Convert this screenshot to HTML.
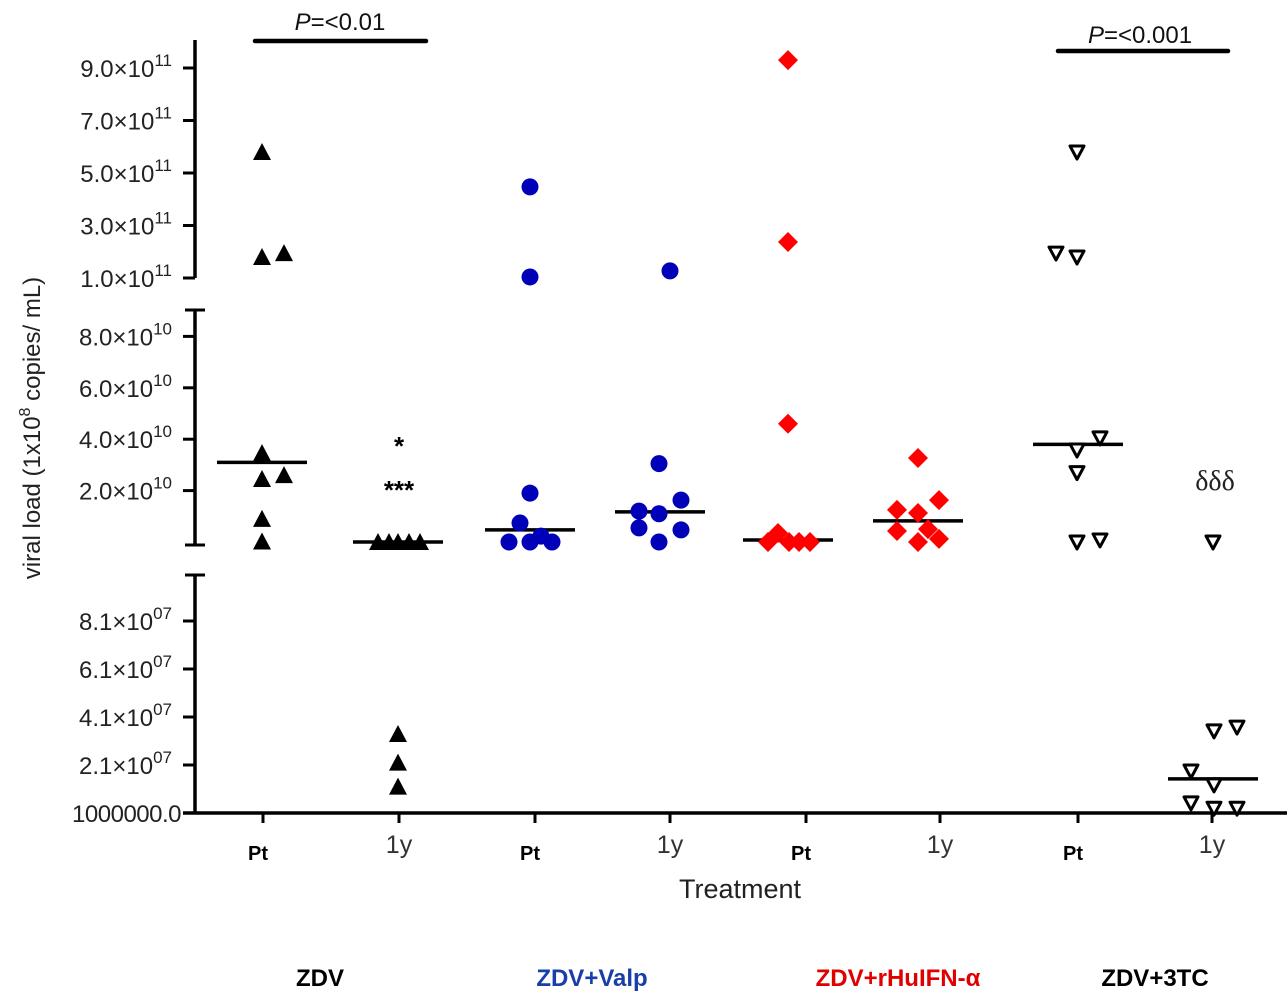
<!DOCTYPE html>
<html><head><meta charset="utf-8"><style>
html,body{margin:0;padding:0;background:#fff;}
svg{display:block;font-family:"Liberation Sans",Arial,sans-serif;}
</style></head><body>
<svg id="chart" width="1287" height="1000" viewBox="0 0 1287 1000"></svg>
<script>
// ---- data ----
const categories = ["ZDV Pt","ZDV 1y","ZDV+Valp Pt","ZDV+Valp 1y","ZDV+rHuIFN Pt","ZDV+rHuIFN 1y","ZDV+3TC Pt","ZDV+3TC 1y"];
const zdvPt   = [5.8e11,1.8e11,1.95e11,3.46e10,2.45e10,2.6e10,0.9e10,0.02e10];
const zdv1y   = [0,0,0,0,0,3.39e7,2.2e7,1.2e7];
const valpPt  = [4.47e11,1.04e11,1.9e10,0.74e10,0.23e10,0,0,0];
const valp1y  = [1.27e11,3.05e10,1.63e10,1.2e10,1.1e10,0.55e10,0.47e10,0];
const ifnPt   = [9.3e11,2.37e11,4.6e10,0,0.35e10,0,0,0];
const ifn1y   = [3.27e10,1.63e10,1.25e10,1.13e10,0.43e10,0.5e10,0.12e10,0];
const tcPt    = [5.8e11,1.95e11,1.8e11,3.58e10,4.05e10,2.7e10,0,0.08e10];
const tc1y    = [0,3.52e7,3.68e7,1.85e7,1.27e7,0.52e7,0.3e7,0.3e7];
const medians = [3.1e10,0,0.47e10,1.17e10,0.08e10,0.82e10,3.8e10,1.52e7];
const tickHigh = ["9.0","7.0","5.0","3.0","1.0"];
const tickHighVals = [9e11,7e11,5e11,3e11,1e11];
const tickMid = ["8.0","6.0","4.0","2.0"];
const tickMidVals = [8e10,6e10,4e10,2e10];
const tickLow = ["8.1","6.1","4.1","2.1"];
const tickLowVals = [8.1e7,6.1e7,4.1e7,2.1e7];

// ---- layout (not data) ----
const centers = [262,398,530,660,788,918,1078,1213];
const tickX = [263,399,535,670,806,940,1078,1212];
const jit = [
 [0,0,22,0,0,22,0,0],
 [-20,-9,0,11,22,0,0,0],
 [0,0,0,-10,11,-21,0,22],
 [10,-1,21,-21,-1,-21,21,-1],
 [0,0,0,-20,-10,1,11,22],
 [0,21,-21,0,-21,10,21,0],
 [-1,-22,-1,-1,22,-1,-1,22],
 [0,1,24,-22,1,-22,1,24]
];
const series=[zdvPt,zdv1y,valpPt,valp1y,ifnPt,ifn1y,tcPt,tc1y];
const kinds=["tri","tri","circ","circ","dia","dia","otri","otri"];

function y(v){
  if(v>=1e6 && v<1e8) return 813-(v-1e6)/1e7*24;
  if(v<1e11*0.95) return 542-v/1e10*25.7;
  return 278-(v-1e11)/1e11*26.25;
}
const svg=document.getElementById('chart');
const NS="http://www.w3.org/2000/svg";
function mk(tag,attrs,parent){const e=document.createElementNS(NS,tag);for(const k in attrs)e.setAttribute(k,attrs[k]);(parent||svg).appendChild(e);return e;}

// axes
const ax=mk('g',{});


[[40,278],[310,545],[575,813]].forEach(s=>mk('line',{x1:195,x2:195,y1:s[0],y2:s[1],stroke:'#000','stroke-width':3.5},ax));
[[310],[545],[575]].forEach(s=>mk('line',{x1:185,x2:205,y1:s[0],y2:s[0],stroke:'#000','stroke-width':3},ax));
const xa=mk('line',{x1:183,x2:1287,y1:813,y2:813,stroke:'#000','stroke-width':3.5});


tickX.forEach(x=>mk('line',{x1:x,x2:x,y1:813,y2:823,stroke:'#000','stroke-width':3}));

function ticks(labels,vals,exp){
  labels.forEach((l,i)=>{
    const yy=y(vals[i]);
    mk('line',{x1:183,x2:195,y1:yy,y2:yy,stroke:'#000','stroke-width':3});
    const t=mk('text',{x:172,y:yy+9,'text-anchor':'end','font-size':24,fill:'#222'});
    
    
    t.innerHTML=l+'\u00d710<tspan font-size="17" dy="-11">'+exp+'</tspan>';
  });
}
ticks(tickHigh,tickHighVals,'11');
ticks(tickMid,tickMidVals,'10');
ticks(tickLow,tickLowVals,'07');
mk('line',{x1:183,x2:195,y1:813,y2:813,stroke:'#000','stroke-width':3});
const zl=mk('text',{x:181,y:822,'text-anchor':'end','font-size':24,fill:'#222','letter-spacing':'-0.5'});zl.textContent='1000000.0';



// medians
medians.forEach((m,i)=>{
  const l=mk('line',{x1:centers[i]-45,x2:centers[i]+45,y1:y(m),y2:y(m),stroke:'#000','stroke-width':3.5});
  
  
});

// points
series.forEach((arr,i)=>{
  arr.forEach((v,j)=>{
    const cx=centers[i]+jit[i][j], cy=y(v); let e;
    if(kinds[i]=='tri') e=mk('polygon',{points:`${cx},${cy-9} ${cx+9},${cy+8} ${cx-9},${cy+8}`,fill:'#000'});
    else if(kinds[i]=='circ') e=mk('circle',{cx:cx,cy:cy,r:8.5,fill:'#0000b8'});
    else if(kinds[i]=='dia') e=mk('polygon',{points:`${cx},${cy-10} ${cx+10},${cy} ${cx},${cy+10} ${cx-10},${cy}`,fill:'#ff0000'});
    else e=mk('polygon',{points:`${cx-7},${cy-6} ${cx+7},${cy-6} ${cx},${cy+7}`,fill:'#fff',stroke:'#000','stroke-width':3,'stroke-linejoin':'round'});
    
    
  });
});

function txt(s,a,name){const t=mk('text',a);t.textContent=s;return t;}
// significance
mk('line',{x1:255,x2:426,y1:41,y2:41,stroke:'#000','stroke-width':4.5,'stroke-linecap':'round'});
mk('line',{x1:1058,x2:1228,y1:51,y2:51,stroke:'#000','stroke-width':4.5,'stroke-linecap':'round'});
const p1=mk('text',{x:340,y:30,'text-anchor':'middle','font-size':24,fill:'#111'});p1.innerHTML='<tspan font-style="italic">P</tspan>=&lt;0.01';

const p2=mk('text',{x:1140,y:43,'text-anchor':'middle','font-size':24,fill:'#111'});p2.innerHTML='<tspan font-style="italic">P</tspan>=&lt;0.001';

txt('*',{x:399,y:455,'text-anchor':'middle','font-size':26,'font-weight':'bold'},'significance-star');
txt('***',{x:399,y:499,'text-anchor':'middle','font-size':26,'font-weight':'bold'},'significance-stars');
txt('δδδ',{x:1215,y:490,'text-anchor':'middle','font-size':28,'font-family':'Liberation Serif, serif',fill:'#222'},'significance-delta');

// x labels
["Pt","1y","Pt","1y","Pt","1y","Pt","1y"].forEach((l,i)=>{
  if(l=='Pt') txt(l,{x:tickX[i]-5,y:860,'text-anchor':'middle','font-size':20,'font-weight':'bold'},'x-tick-label');
  else txt(l,{x:tickX[i],y:853,'text-anchor':'middle','font-size':25,fill:'#333'},'x-tick-label');
});
txt('Treatment',{x:740,y:898,'text-anchor':'middle','font-size':27,fill:'#222'},'x-axis-title');
const yt=mk('text',{x:0,y:0,'text-anchor':'middle','font-size':24,fill:'#222',transform:'translate(40,428) rotate(-90)'});
yt.innerHTML='viral load (1x10<tspan font-size="16" dy="-10">8</tspan><tspan dy="10"> copies/ mL)</tspan>';


// group labels
const gl=[["ZDV",320,"#000"],["ZDV+Valp",592,"#1a3ea8"],["ZDV+rHuIFN-α",898,"#e00000"],["ZDV+3TC",1155,"#000"]];
gl.forEach(g=>txt(g[0],{x:g[1],y:986,'text-anchor':'middle','font-size':24,'font-weight':'bold',fill:g[2],'font-family':'"Liberation Sans Narrow","Liberation Sans",sans-serif'},'group-label'));
</script>
</body></html>
